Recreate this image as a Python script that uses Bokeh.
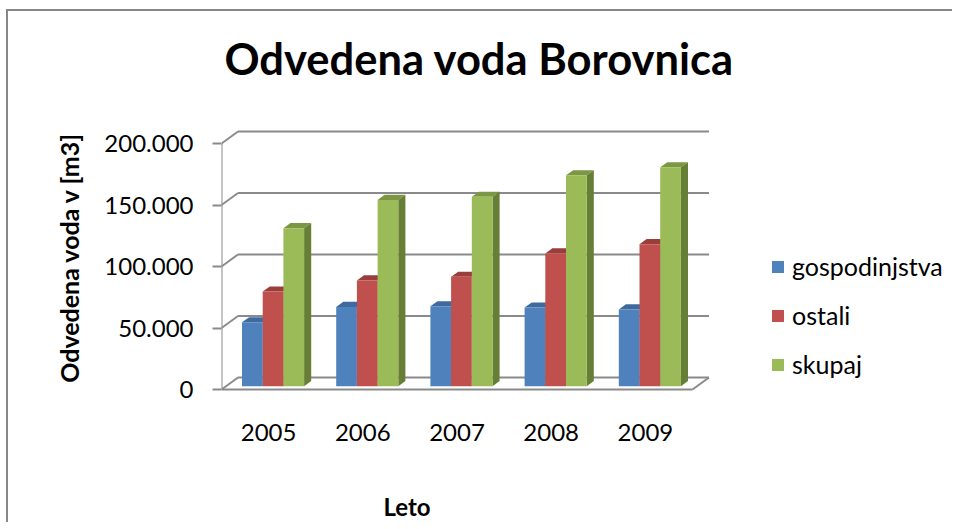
from bokeh.plotting import figure
from bokeh.models import Range1d, FixedTicker, Legend, LegendItem, Title
from bokeh.embed import file_html
from bokeh.resources import INLINE

# ---------------- data ----------------
years = ["2005", "2006", "2007", "2008", "2009"]
gospodinjstva = [52000, 64500, 65000, 64000, 62500]
ostali = [77000, 86000, 89000, 108000, 115500]
skupaj = [128500, 151500, 154000, 171500, 178000]
series_names = ["gospodinjstva", "ostali", "skupaj"]
y_ticks = [0, 50000, 100000, 150000, 200000]
y_tick_labels = ["0", "50.000", "100.000", "150.000", "200.000"]

# ---------------- layout constants ----------------
W, H = 946, 513
FR_L, FR_T, FR_B = 213, 109, 383
FR_R = W
PX_X = 94.2                   # px per category
PX_Y = 246.0 / 200000.0       # px per m3
ZERO_OFF = 5                  # px between frame bottom and value 0
x_end = (FR_R - FR_L) / PX_X
y_start = -ZERO_OFF / PX_Y
y_end = y_start + (FR_B - FR_T) / PX_Y

DX = 16.5 / PX_X              # depth of walls in data units
DY = 12.0 / PX_Y
F0, F1 = 0.27, 0.70           # bars occupy this depth fraction
BW = 20.7 / PX_X

GRID = "#8a8a8a"
FONT = "Lato"
front_cols = ["#4F81BD", "#C0504D", "#9BBB59"]
top_cols = ["#3E6A9E", "#9A3E3B", "#7B9743"]
side_cols = ["#385D8A", "#8C3836", "#677E37"]

p = figure(width=W, height=H, output_backend="svg", toolbar_location=None,
           x_range=Range1d(0, x_end), y_range=Range1d(y_start, y_end),
           min_border_left=FR_L, min_border_right=0,
           min_border_top=FR_T, min_border_bottom=H - FR_B)
p.styles = {"border-left": "2px solid #878787", "border-top": "2px solid #878787",
            "margin-left": "6px", "margin-top": "9px",
            "margin-bottom": "-30px", "margin-right": "-30px"}
p.outline_line_color = None
p.xgrid.visible = False
p.ygrid.visible = False
p.background_fill_color = "white"
p.border_fill_color = "white"
p.title.visible = False

# chart title (spacer keeps it high above the plot area)
p.add_layout(Title(text=" ", text_font_size="1px", standoff=34), "above")
p.add_layout(Title(text="Odvedena voda Borovnica", align="left", offset=3,
                   text_font=FONT, text_font_style="bold", text_font_size="43.5px",
                   text_color="black", standoff=0), "above")

# y axis
ya = p.yaxis[0]
ya.ticker = FixedTicker(ticks=y_ticks)
ya.major_label_overrides = {t: s for t, s in zip(y_ticks, y_tick_labels)}
ya.axis_line_color = None
ya.major_tick_out = 9
ya.major_tick_in = 0
ya.major_tick_line_color = GRID
ya.major_tick_line_width = 2
ya.minor_tick_line_color = None
ya.major_label_standoff = 19
ya.major_label_text_font = FONT
ya.major_label_text_font_size = "24px"
ya.major_label_text_color = "black"
ya.axis_label = "Odvedena voda v [m3]"
ya.axis_label_text_font = FONT
ya.axis_label_text_font_style = "bold"
ya.axis_label_text_font_size = "25px"
ya.axis_label_text_color = "black"
ya.axis_label_standoff = 17

# x axis
xa = p.xaxis[0]
x_ticks = [i + 0.5 for i in range(len(years))]
xa.ticker = FixedTicker(ticks=x_ticks)
xa.major_label_overrides = {t: s for t, s in zip(x_ticks, years)}
xa.axis_line_color = None
xa.major_tick_line_color = None
xa.minor_tick_line_color = None
xa.major_label_standoff = 23
xa.major_label_text_font = FONT
xa.major_label_text_font_size = "24px"
xa.major_label_text_color = "black"

# x axis title under the category labels
p.add_layout(Title(text=" ", text_font_size="1px", standoff=43), "below")
p.add_layout(Title(text="Leto", align="left", offset=162, text_font=FONT,
                   text_font_style="bold", text_font_size="24px", text_color="black",
                   standoff=0), "below")

# ---------------- walls ----------------
n = len(years)
p.multi_line(xs=[[DX, n + DX] for t in y_ticks], ys=[[t + DY, t + DY] for t in y_ticks],
             line_color=GRID, line_width=2)
p.multi_line(xs=[[0, DX] for t in y_ticks], ys=[[t, t + DY] for t in y_ticks],
             line_color=GRID, line_width=2)
p.multi_line(xs=[[0, 0], [0, n], [n, n + DX]],
             ys=[[0, y_ticks[-1]], [0, 0], [0, DY]],
             line_color=GRID, line_width=2)

# ---------------- bars ----------------
series = [gospodinjstva, ostali, skupaj]
ox0, oy0 = F0 * DX, F0 * DY
bdx, bdy = (F1 - F0) * DX, (F1 - F0) * DY
geo = []
for k, vals in enumerate(series):
    fx, fy, tx, ty, sx, sy = [], [], [], [], [], []
    for i, v in enumerate(vals):
        x0 = i + 0.5 - 1.5 * BW + k * BW + ox0
        x1 = x0 + BW
        b = oy0
        t = v + oy0
        fx.append([x0, x1, x1, x0]); fy.append([b, b, t, t])
        tx.append([x0, x1, x1 + bdx, x0 + bdx]); ty.append([t, t, t + bdy, t + bdy])
        sx.append([x1, x1 + bdx, x1 + bdx, x1]); sy.append([b, b + bdy, t + bdy, t])
    geo.append((fx, fy, tx, ty, sx, sy))

legend_rs = [None, None, None]
for i in range(n):
    for k in range(3):
        fx, fy, tx, ty, sx, sy = geo[k]
        p.patch(tx[i], ty[i], fill_color=top_cols[k], line_color=None)
        p.patch(sx[i], sy[i], fill_color=side_cols[k], line_color=None)
        r = p.patch(fx[i], fy[i], fill_color=front_cols[k], line_color=None)
        if legend_rs[k] is None:
            legend_rs[k] = r

legend = Legend(items=[LegendItem(label=series_names[k], renderers=[legend_rs[k]]) for k in range(3)],
                location=(549, 15), orientation="vertical")
legend.glyph_width = 15
legend.glyph_height = 15
legend.label_height = 30
legend.spacing = 19
legend.padding = 0
legend.margin = 0
legend.label_standoff = 7
legend.label_text_font = FONT
legend.label_text_font_size = "25px"
legend.label_text_color = "black"
legend.border_line_color = None
legend.background_fill_color = None
p.add_layout(legend)

open("out.html", "w").write(file_html(p, INLINE))
